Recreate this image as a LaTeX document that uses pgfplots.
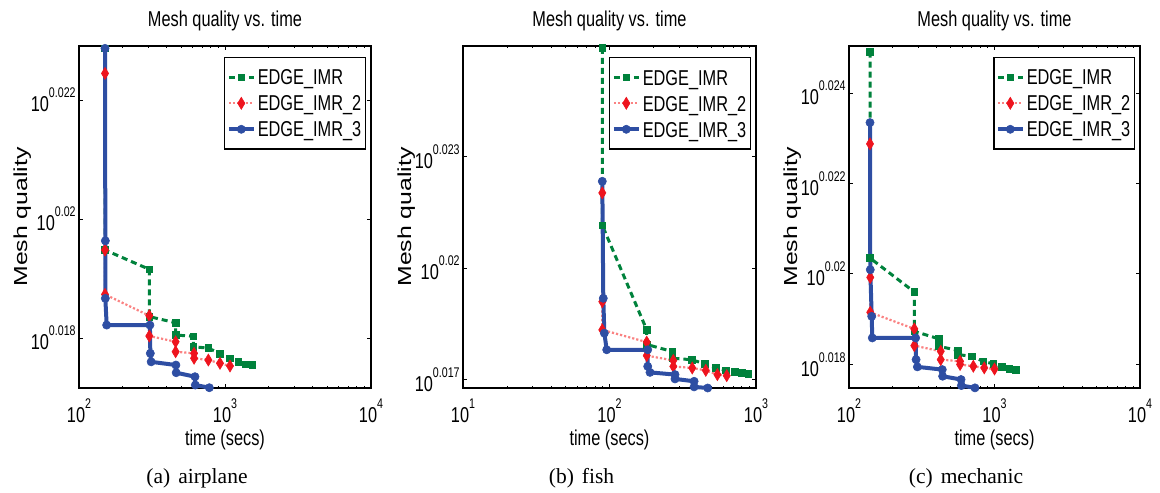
\documentclass[border=0pt]{standalone}
\usepackage{fontspec}
\usepackage{graphicx}
\usepackage{pgfplots}
\pgfplotsset{compat=1.18}
\newfontfamily\mainfnt{Liberation Sans}[FakeStretch=0.76]
\newfontfamily\ylfnt{Liberation Sans}
\newfontfamily\capfnt{Liberation Serif}
\newcommand\mf{\mainfnt\fontsize{10.75}{12}\selectfont}
\newcommand\tk[1]{10\raisebox{7pt}{\fontsize{7}{8}\selectfont #1}}
\definecolor{mygreen}{RGB}{0,130,60}
\definecolor{myred}{RGB}{238,20,30}
\definecolor{mypink}{RGB}{250,130,130}
\definecolor{myblue}{RGB}{46,78,163}
\pgfplotsset{
  legend image code/.code={\draw[mark repeat=2,mark phase=2,#1] plot coordinates {(0pt,0pt) (6.25pt,0pt) (12.5pt,0pt)};},
  every axis y label/.style={at={(rel axis cs:0,0.5)}, xshift=-26pt, rotate=90, anchor=base},
  every axis title/.style={at={(rel axis cs:0.5,1)}, anchor=base, yshift=9.65pt, font=\mf},
}
\pgfplotsset{
 mq/.style={
  scale only axis, height=171pt,
  clip=false, scaled y ticks=false,
  tick align=inside, major tick length=2pt, minor tick length=1.2pt,
  axis line style={line width=0.75pt},
  every tick/.style={black, line width=0.5pt},
  tick label style={font=\mf},
  xticklabel style={anchor=north, inner sep=0pt, yshift=-5pt},
  yticklabel style={anchor=east, inner sep=0pt, xshift=-1.5pt},
  title={Mesh quality vs. time},
  xlabel={time (secs)},
  xlabel style={font=\mf, at={(0.5,0)}, anchor=base, yshift=-28.5pt},
  ylabel={\scalebox{1}[0.76]{\ylfnt\fontsize{12.4}{14}\selectfont Mesh quality}},
  legend style={at={(1,1)}, anchor=north east, xshift=-2.5pt, yshift=-5.5pt,
    draw=black, line width=0.7pt, fill=white, inner xsep=1pt, inner ysep=3.3pt,
    row sep=0pt, font=\mf,
    nodes={inner xsep=1pt, inner ysep=0pt, text height=10.35pt, text depth=2.65pt}},
  legend cell align=left,
 },
 gs/.style={color=mygreen, line width=1.5pt, dash pattern=on 3pt off 2pt, mark=square*, mark size=1.7pt, mark options={solid, line width=0.3pt, fill=mygreen, draw=mygreen}},
 rs/.style={color=mypink, line width=1.1pt, densely dotted, mark=diamond*, mark size=3pt, mark options={solid, xscale=0.8, line width=0.3pt, fill=myred, draw=myred}},
 bs/.style={color=myblue, line width=2pt, solid, mark=*, mark size=2.05pt, mark options={solid, line width=0.3pt, fill=myblue, draw=myblue}},
}
\begin{document}
\begin{tikzpicture}
\path[use as bounding box] (0pt,0pt) rectangle (580pt,246pt);
% ---------------- (a) airplane
\begin{axis}[xmode=log, mq, at={(39.5pt,52pt)}, anchor=south west, width=146pt,
  xmin=100, xmax=10000, ymin=0.01716, ymax=0.02291,
  xtick={100,1000,10000}, xticklabels={\tk{2},\tk{3},\tk{4}},
  minor xtick={200,300,400,500,600,700,800,900,2000,3000,4000,5000,6000,7000,8000,9000},
  ytick={0.018,0.02,0.022}, yticklabels={\tk{0.018},\tk{0.02},\tk{0.022}}]
\addplot[gs] coordinates {(150.7,0.02287) (150.7,0.01948) (303,0.019155) (303,0.01836) (459,0.018257) (459,0.01805) (607,0.01803) (607,0.017854) (769,0.01783) (924,0.01774) (1082,0.01766) (1233,0.0176) (1386,0.01756) (1538,0.01755)};
\addplot[rs] coordinates {(150.7,0.022449) (150.7,0.019479) (150.7,0.018734) (303,0.018375) (303,0.018034) (459,0.017938) (459,0.01777) (614,0.017743) (614,0.01766) (769,0.01763) (924,0.017575) (1082,0.01753)};
\addplot[bs] coordinates {(150.7,0.02287) (151.5,0.019635) (151.5,0.018667) (154.7,0.018218) (306,0.018218) (308,0.017743) (312,0.0176) (461,0.017546) (463,0.017417) (623,0.01735) (626,0.01721) (781,0.017165)};
\legend{EDGE\_IMR,EDGE\_IMR\_2,EDGE\_IMR\_3}
\end{axis}
% ---------------- (b) fish
\begin{axis}[xmode=log, mq, at={(231.5pt,52pt)}, anchor=south west, width=146.5pt,
  xmin=10, xmax=1000, ymin=0.01678, ymax=0.02597,
  xtick={10,100,1000}, xticklabels={\tk{1},\tk{2},\tk{3}},
  minor xtick={20,30,40,50,60,70,80,90,200,300,400,500,600,700,800,900},
  ytick={0.017,0.02,0.023}, yticklabels={\tk{0.017},\tk{0.02},\tk{0.023}}]
\addplot[gs] coordinates {(89.3,0.02592) (89.3,0.02115) (179.5,0.018342) (179.5,0.01795) (268.4,0.01776) (268.4,0.01758) (364,0.01754) (449,0.017425) (533,0.017318) (624,0.017254) (715,0.01721) (798,0.017184) (887,0.017166)};
\addplot[rs] coordinates {(89.3,0.022024) (89.3,0.0191) (89.3,0.018342) (179.5,0.018013) (179.5,0.01765) (272.6,0.01752) (272.6,0.01736) (367,0.017318) (454,0.017254) (545,0.01714) (631,0.017112)};
\addplot[bs] coordinates {(89.3,0.022334) (90.7,0.01919) (92.2,0.018254) (95.7,0.017807) (182.3,0.017807) (182.3,0.01736) (189,0.0172) (280,0.01714) (280,0.017024) (378,0.01696) (378,0.01681) (468,0.01678)};
\legend{EDGE\_IMR,EDGE\_IMR\_2,EDGE\_IMR\_3}
\end{axis}
% ---------------- (c) mechanic
\begin{axis}[xmode=log, mq, at={(424.5pt,52pt)}, anchor=south west, width=145.5pt,
  xmin=100, xmax=10000, ymin=0.01748, ymax=0.02504,
  xtick={100,1000,10000}, xticklabels={\tk{2},\tk{3},\tk{4}},
  minor xtick={200,300,400,500,600,700,800,900,2000,3000,4000,5000,6000,7000,8000,9000},
  ytick={0.018,0.02,0.022,0.024}, yticklabels={\tk{0.018},\tk{0.02},\tk{0.022},\tk{0.024}}]
\addplot[gs] coordinates {(139.4,0.024914) (139.4,0.020353) (281,0.019603) (281,0.018733) (415.6,0.018565) (415.6,0.0184) (558,0.018313) (558,0.01822) (697,0.01818) (837,0.01807) (981,0.018013) (1121,0.017947) (1264,0.01791) (1405,0.017887)};
\addplot[rs] coordinates {(139.4,0.022876) (140,0.019925) (140,0.019152) (281,0.018786) (281,0.018417) (427,0.018291) (427,0.018108) (580,0.01807) (580,0.018) (715,0.01796) (850,0.017925) (1000,0.0179)};
\addplot[bs] coordinates {(139.4,0.023347) (140,0.020095) (143.2,0.019064) (144.5,0.018587) (287,0.018587) (289,0.018108) (295,0.017947) (437.5,0.017887) (440,0.01774) (589,0.017667) (592,0.017534) (734,0.017483)};
\legend{EDGE\_IMR,EDGE\_IMR\_2,EDGE\_IMR\_3}
\end{axis}
% ---------------- captions
\node[font=\capfnt\fontsize{10.75}{12}\selectfont, anchor=base] at (98.5pt,4.5pt) {(a)\hspace{4pt}airplane};
\node[font=\capfnt\fontsize{10.75}{12}\selectfont, anchor=base] at (290.75pt,4.5pt) {(b)\hspace{4pt}fish};
\node[font=\capfnt\fontsize{10.75}{12}\selectfont, anchor=base] at (483pt,4.5pt) {(c)\hspace{4pt}mechanic};
\end{tikzpicture}
\end{document}
